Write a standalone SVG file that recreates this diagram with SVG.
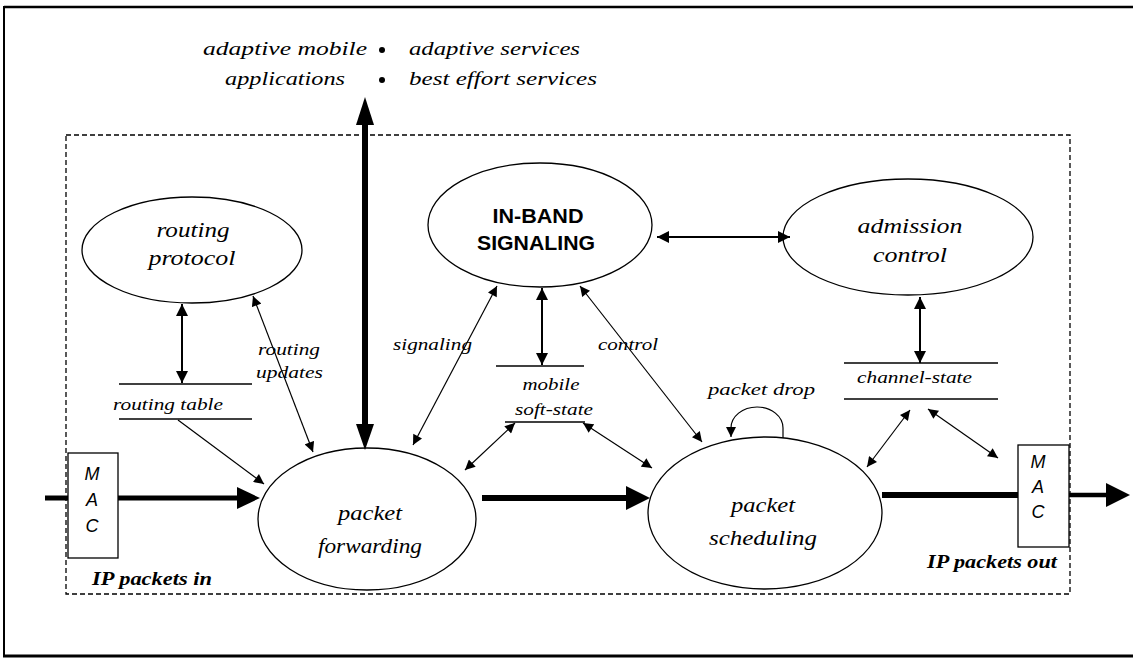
<svg xmlns="http://www.w3.org/2000/svg" width="1133" height="661" viewBox="0 0 1133 661">
<style>
.it{font-family:"Liberation Serif",serif;font-style:italic;fill:#000}
.big{font-size:21px}
.sm{font-size:17px}
.top{font-size:19px}
.bi{font-family:"Liberation Serif",serif;font-style:italic;font-weight:bold;font-size:19px}
.sans{font-family:"Liberation Sans",sans-serif;font-style:italic;font-size:18px}
.bold{font-family:"Liberation Sans",sans-serif;font-weight:bold;font-size:20px}
.node{fill:#fff;stroke:#000;stroke-width:1.3}
.thin{fill:none;stroke:#000;stroke-width:1.2}
.med{fill:none;stroke:#000;stroke-width:2}
.rule{stroke:#000;stroke-width:1.3}
</style>
<defs>
<marker id="ah" viewBox="0 0 10 10" refX="10" refY="5" markerWidth="11" markerHeight="10" markerUnits="userSpaceOnUse" orient="auto-start-reverse"><path d="M0,0 L10,5 L0,10 z" fill="#000"/></marker>
<marker id="am" viewBox="0 0 10 10" refX="10" refY="5" markerWidth="13" markerHeight="12" markerUnits="userSpaceOnUse" orient="auto-start-reverse"><path d="M0,0 L10,5 L0,10 z" fill="#000"/></marker>
</defs>
<rect width="1133" height="661" fill="#fff"/>
<g id="frame">
<line x1="4" y1="7" x2="1133" y2="7" stroke="#000" stroke-width="2.5"/>
<line x1="4" y1="6" x2="4" y2="657" stroke="#000" stroke-width="2"/>
<line x1="3" y1="656" x2="1133" y2="656" stroke="#000" stroke-width="3"/>
<rect x="66" y="135" width="1004" height="459" fill="none" stroke="#000" stroke-width="1.3" stroke-dasharray="5,3"/>
</g>
<g id="apps">
<text class="it top" x="203" y="55" textLength="164" lengthAdjust="spacingAndGlyphs">adaptive mobile</text>
<text class="it top" x="225" y="85" textLength="120" lengthAdjust="spacingAndGlyphs">applications</text>
<circle cx="382" cy="50" r="3"/>
<circle cx="382" cy="80" r="3"/>
<text class="it top" x="409" y="55" textLength="171" lengthAdjust="spacingAndGlyphs">adaptive services</text>
<text class="it top" x="409" y="85" textLength="188" lengthAdjust="spacingAndGlyphs">best effort services</text>
</g>
<g id="routing-protocol">
<ellipse class="node" cx="192" cy="250" rx="110" ry="53"/>
<text class="it big" x="193" y="237" text-anchor="middle" textLength="73" lengthAdjust="spacingAndGlyphs">routing</text>
<text class="it big" x="192" y="265" text-anchor="middle" textLength="87" lengthAdjust="spacingAndGlyphs">protocol</text>
</g>
<g id="in-band-signaling">
<ellipse class="node" cx="540" cy="225" rx="112" ry="62"/>
<text class="bold" x="538" y="223" text-anchor="middle" textLength="91" lengthAdjust="spacingAndGlyphs">IN-BAND</text>
<text class="bold" x="536" y="250" text-anchor="middle" textLength="118" lengthAdjust="spacingAndGlyphs">SIGNALING</text>
</g>
<g id="admission-control">
<ellipse class="node" cx="908" cy="237" rx="125" ry="58"/>
<text class="it big" x="910" y="233" text-anchor="middle" textLength="105" lengthAdjust="spacingAndGlyphs">admission</text>
<text class="it big" x="910" y="262" text-anchor="middle" textLength="74" lengthAdjust="spacingAndGlyphs">control</text>
</g>
<g id="routing-table">
<line class="rule" x1="119" y1="384" x2="252" y2="384"/>
<line class="rule" x1="119" y1="419" x2="252" y2="419"/>
<text class="it sm" x="113" y="410" textLength="110" lengthAdjust="spacingAndGlyphs">routing table</text>
</g>
<g id="mobile-soft-state">
<line class="rule" x1="496" y1="366" x2="584" y2="366"/>
<line class="rule" x1="505" y1="422" x2="585" y2="422"/>
<text class="it sm" x="551" y="390" text-anchor="middle" textLength="57" lengthAdjust="spacingAndGlyphs">mobile</text>
<text class="it sm" x="554" y="415" text-anchor="middle" textLength="78" lengthAdjust="spacingAndGlyphs">soft-state</text>
</g>
<g id="channel-state">
<line class="rule" x1="844" y1="363" x2="998" y2="363"/>
<line class="rule" x1="844" y1="399" x2="998" y2="399"/>
<text class="it sm" x="857" y="383" textLength="115" lengthAdjust="spacingAndGlyphs">channel-state</text>
</g>
<g id="packet-forwarding">
<ellipse class="node" cx="367" cy="519" rx="109" ry="71"/>
<text class="it big" x="370" y="520" text-anchor="middle" textLength="64" lengthAdjust="spacingAndGlyphs">packet</text>
<text class="it big" x="370" y="553" text-anchor="middle" textLength="104" lengthAdjust="spacingAndGlyphs">forwarding</text>
</g>
<g id="packet-scheduling">
<ellipse class="node" cx="765" cy="513" rx="117" ry="76"/>
<text class="it big" x="763" y="512" text-anchor="middle" textLength="64" lengthAdjust="spacingAndGlyphs">packet</text>
<text class="it big" x="763" y="545" text-anchor="middle" textLength="108" lengthAdjust="spacingAndGlyphs">scheduling</text>
</g>
<g id="mac-in">
<rect x="68" y="453" width="50" height="105" fill="#fff" stroke="#000" stroke-width="1.3"/>
<text class="sans" x="92" y="480" text-anchor="middle">M</text>
<text class="sans" x="92" y="506" text-anchor="middle">A</text>
<text class="sans" x="92" y="532" text-anchor="middle">C</text>
</g>
<g id="mac-out">
<rect x="1018" y="445" width="51" height="102" fill="#fff" stroke="#000" stroke-width="1.3"/>
<text class="sans" x="1038" y="468" text-anchor="middle">M</text>
<text class="sans" x="1038" y="493" text-anchor="middle">A</text>
<text class="sans" x="1038" y="518" text-anchor="middle">C</text>
</g>
<g id="io-labels">
<text class="bi" x="92" y="585" textLength="120" lengthAdjust="spacingAndGlyphs">IP packets in</text>
<text class="bi" x="927" y="568" textLength="130" lengthAdjust="spacingAndGlyphs">IP packets out</text>
</g>
<g id="connectors">
<line x1="45" y1="498" x2="68" y2="498" stroke="#000" stroke-width="5"/>
<line x1="118" y1="498" x2="240" y2="498" stroke="#000" stroke-width="5"/>
<polygon points="237,487 260,498 237,509"/>
<line x1="482" y1="498" x2="630" y2="498" stroke="#000" stroke-width="6"/>
<polygon points="626,486 650,498 626,510"/>
<line x1="882" y1="495" x2="1018" y2="495" stroke="#000" stroke-width="6"/>
<line x1="1069" y1="495" x2="1110" y2="495" stroke="#000" stroke-width="4.5"/>
<polygon points="1106,483 1130,495 1106,507"/>
<line x1="365" y1="120" x2="365" y2="428" stroke="#000" stroke-width="6"/>
<polygon points="365,97 356,125 374,125"/>
<polygon points="365,450 356,424 374,424"/>
<line class="med" x1="182" y1="304" x2="182" y2="383" marker-start="url(#am)" marker-end="url(#am)"/>
<line class="med" x1="542" y1="288" x2="542" y2="365" marker-start="url(#am)" marker-end="url(#am)"/>
<line class="med" x1="657" y1="237" x2="790" y2="237" marker-start="url(#am)" marker-end="url(#am)"/>
<line class="med" x1="920" y1="297" x2="920" y2="363" marker-start="url(#am)" marker-end="url(#am)"/>
<line class="thin" x1="178" y1="420" x2="264" y2="484" marker-end="url(#ah)"/>
<line class="thin" x1="253" y1="296" x2="313" y2="452" marker-start="url(#ah)" marker-end="url(#ah)"/>
<line class="thin" x1="497" y1="286" x2="413" y2="445" marker-start="url(#ah)" marker-end="url(#ah)"/>
<line class="thin" x1="580" y1="286" x2="702" y2="442" marker-start="url(#ah)" marker-end="url(#ah)"/>
<line class="thin" x1="515" y1="423" x2="465" y2="470" marker-start="url(#ah)" marker-end="url(#ah)"/>
<line class="thin" x1="583" y1="423" x2="652" y2="468" marker-start="url(#ah)" marker-end="url(#ah)"/>
<line class="thin" x1="910" y1="410" x2="867" y2="467" marker-start="url(#ah)" marker-end="url(#ah)"/>
<line class="thin" x1="928" y1="409" x2="998" y2="458" marker-start="url(#ah)" marker-end="url(#ah)"/>
<path class="thin" d="M783,438 L783,428 A26,21 0 0 0 731,428 L731,437" marker-end="url(#ah)"/>
</g>
<g id="edge-labels">
<text class="it sm" x="258" y="355" textLength="62" lengthAdjust="spacingAndGlyphs">routing</text>
<text class="it sm" x="256" y="378" textLength="67" lengthAdjust="spacingAndGlyphs">updates</text>
<text class="it sm" x="393" y="350" textLength="79" lengthAdjust="spacingAndGlyphs">signaling</text>
<text class="it sm" x="598" y="350" textLength="60" lengthAdjust="spacingAndGlyphs">control</text>
<text class="it sm" x="708" y="395" textLength="107" lengthAdjust="spacingAndGlyphs">packet drop</text>
</g>
</svg>
